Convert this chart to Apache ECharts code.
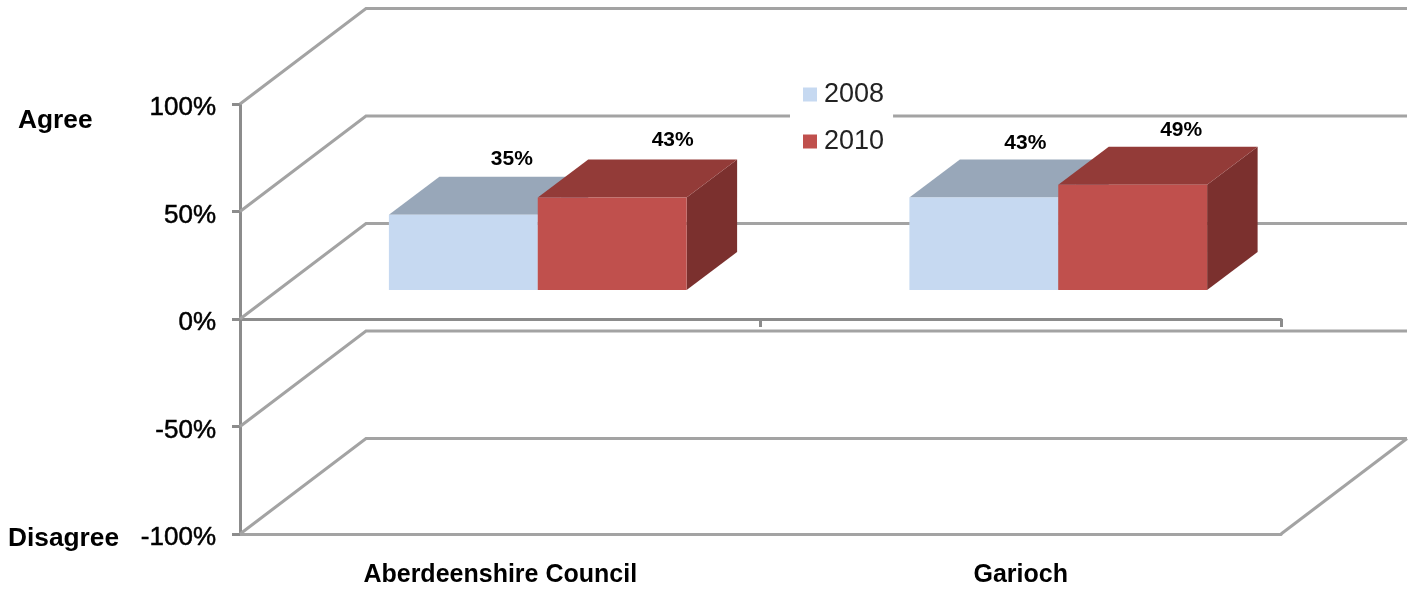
<!DOCTYPE html>
<html>
<head>
<meta charset="utf-8">
<title>Agree / Disagree</title>
<script src="https://cdn.jsdelivr.net/npm/echarts@6/dist/echarts.min.js"></script>
<style>
  html, body { margin: 0; padding: 0; background: #fff; }
  #chart { width: 1416px; height: 589px; }
</style>
</head>
<body>
<div id="chart"></div>
<script>
const categories = ['Aberdeenshire Council', 'Garioch']
const yTicks = [100, 50, 0, -50, -100]
const values2008 = [35, 43]
const values2010 = [43, 49]

const FONT = '"Liberation Sans", Arial, sans-serif'

// fake 3d: how far the back wall sits from the front plane, in px
const WALL_DX = 126
const WALL_DY = 95.5
// bars stand a bit behind the front plane and have their own depth
const BAR_DX = 37.5
const BAR_DY = 29
const DEPTH_DX = 50.5
const DEPTH_DY = 38
const BAR_SHARE = 0.286

// labels were hand placed in the original, so each one gets a nudge
const nudge2008 = [[-2, -18], [-9, -16]]
const nudge2010 = [[10, -19], [-2, -16]]

const poly = (points, fill) => ({
  type: 'polygon',
  shape: { points },
  style: { fill }
})

function renderWall(params, api) {
  const value = api.value(0)
  const first = api.coord([0, value])
  const last = api.coord([categories.length - 1, value])
  const half = api.size([1, 0])[0] / 2
  const x0 = first[0] - half
  const x1 = last[0] + half
  const y = first[1]
  const lineStyle = { stroke: '#a3a3a3', lineWidth: 3, fill: 'none' }
  const children = [{
    type: 'polyline',
    shape: { points: [[x0, y], [x0 + WALL_DX, y - WALL_DY], [x1 + WALL_DX, y - WALL_DY]] },
    style: lineStyle
  }]
  // floor edge on the right only exists at the very bottom
  if (value === yTicks[yTicks.length - 1]) {
    children.push({
      type: 'line',
      shape: { x1: x1, y1: y, x2: x1 + WALL_DX, y2: y - WALL_DY },
      style: lineStyle
    })
  }
  return { type: 'group', children }
}

function makeBarRenderer(seriesIndex, colors, nudges) {
  return function (params, api) {
    const cat = api.value(0)
    const val = api.value(1)
    const center = api.coord([cat, 0])
    const top = api.coord([cat, val])
    const band = api.size([1, 0])[0]
    const w = band * BAR_SHARE
    const left = center[0] + BAR_DX + (seriesIndex - 1) * w
    const right = left + w
    const yBase = center[1] - BAR_DY
    const yTop = top[1] - BAR_DY
    const n = nudges[params.dataIndex]
    return {
      type: 'group',
      children: [
        poly([[right, yTop], [right + DEPTH_DX, yTop - DEPTH_DY], [right + DEPTH_DX, yBase - DEPTH_DY], [right, yBase]], colors.side),
        poly([[left, yTop], [left + DEPTH_DX, yTop - DEPTH_DY], [right + DEPTH_DX, yTop - DEPTH_DY], [right, yTop]], colors.top),
        { type: 'rect', shape: { x: left, y: yTop, width: w, height: yBase - yTop }, style: { fill: colors.front } },
        {
          type: 'text',
          z2: 10,
          style: {
            text: val + '%',
            x: (left + right) / 2 + DEPTH_DX + n[0],
            y: yTop - DEPTH_DY + n[1],
            align: 'center',
            verticalAlign: 'middle',
            font: 'bold 21px ' + FONT,
            fill: '#000'
          }
        }
      ]
    }
  }
}

const chart = echarts.init(document.getElementById('chart'))

chart.setOption({
  animation: false,
  backgroundColor: '#fff',
  grid: { left: 240, right: 135, top: 104, bottom: 55 },
  legend: {
    left: 790,
    top: 73,
    orient: 'vertical',
    backgroundColor: '#fff',
    padding: [8, 9, 8, 13],
    itemWidth: 14,
    itemHeight: 14,
    itemGap: 20,
    data: ['2008', '2010'],
    icon: 'rect',
    textStyle: { fontFamily: FONT, fontSize: 27, color: '#222', padding: [2, 0, 0, 2] }
  },
  xAxis: [
    {
      type: 'category',
      data: categories,
      axisLine: { onZero: true, lineStyle: { color: '#8c8c8c', width: 3 } },
      axisTick: { show: true, length: 8, lineStyle: { color: '#8c8c8c', width: 3 } },
      axisLabel: { show: false }
    },
    {
      type: 'category',
      position: 'bottom',
      data: categories,
      axisLine: { show: true, onZero: false, lineStyle: { color: '#a3a3a3', width: 3 } },
      axisTick: { show: false },
      axisLabel: {
        margin: 29,
        fontFamily: FONT,
        fontSize: 25,
        fontWeight: 'bold',
        color: '#000'
      }
    }
  ],
  yAxis: {
    type: 'value',
    min: -100,
    max: 100,
    interval: 50,
    splitLine: { show: false },
    axisLine: { show: true, onZero: false, lineStyle: { color: '#8c8c8c', width: 3 } },
    axisTick: { show: true, length: 8, lineStyle: { color: '#8c8c8c', width: 3 } },
    axisLabel: {
      formatter: '{value}%',
      margin: 24,
      verticalAlign: 'top',
      lineHeight: 8,
      fontFamily: FONT,
      fontSize: 26,
      color: '#000',
      textBorderColor: '#000',
      textBorderWidth: 0.5
    }
  },
  graphic: [
    { type: 'text', left: 18, top: 108, style: { text: 'Agree', font: 'bold 26.3px ' + FONT, fill: '#000' } },
    { type: 'text', left: 8, top: 526, style: { text: 'Disagree', font: 'bold 26.3px ' + FONT, fill: '#000' } }
  ],
  series: [
    {
      type: 'custom',
      silent: true,
      z: 1,
      renderItem: renderWall,
      encode: { y: 0 },
      data: yTicks.map(v => [v])
    },
    {
      name: '2008',
      type: 'custom',
      z: 2,
      itemStyle: { color: '#c6d9f1' },
      renderItem: makeBarRenderer(0, { front: '#c6d9f1', top: '#98a7b9', side: '#8a9cb1' }, nudge2008),
      encode: { x: 0, y: 1 },
      data: values2008.map((v, i) => [i, v])
    },
    {
      name: '2010',
      type: 'custom',
      z: 3,
      itemStyle: { color: '#c0504d' },
      renderItem: makeBarRenderer(1, { front: '#c0504d', top: '#933b38', side: '#7b302e' }, nudge2010),
      encode: { x: 0, y: 1 },
      data: values2010.map((v, i) => [i, v])
    }
  ]
})
</script>
</body>
</html>
